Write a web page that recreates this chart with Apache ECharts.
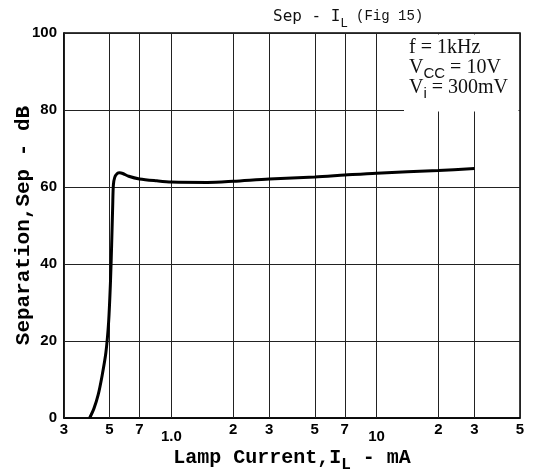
<!DOCTYPE html>
<html><head><meta charset="utf-8">
<script src="https://cdn.jsdelivr.net/npm/echarts@6/dist/echarts.min.js"></script>
<style>html,body{margin:0;padding:0;background:#fff}#c{width:543px;height:473px}</style>
</head><body><div id="c"></div>
<script>
// Lamp current (mA) and separation (dB)
const currents   = [0.40, 0.42, 0.44, 0.46, 0.48, 0.495, 0.505, 0.512, 0.518, 0.522, 0.53, 0.545, 0.56, 0.58, 0.62, 0.70, 0.85, 1.0, 1.5, 2.0, 3.0, 5, 7, 10, 20, 30];
const separation = [0, 2.5, 6, 11, 17, 25, 35, 45, 55, 60.5, 62.5, 63.5, 63.7, 63.5, 62.8, 62.1, 61.6, 61.3, 61.2, 61.5, 62.1, 62.6, 63.1, 63.6, 64.3, 64.8];
// x-axis ticks (log scale, mA) and their printed labels
const tickValues = [0.3, 0.5, 0.7, 1, 2, 3, 5, 7, 10, 20, 30, 50];
const tickLabels = ['3', '5', '7', '1.0', '2', '3', '5', '7', '10', '2', '3', '5'];
const lowLabels  = ['1.0', '10'];
const xMin = 0.3, xMax = 50;
const yMin = 0, yMax = 100, yStep = 20;

const chart = echarts.init(document.getElementById('c'));
const lineData = currents.map((c, i) => [c, separation[i]]);

const gridLines = tickValues.map((v, i) => [
  { coord: [v, yMin], label: { formatter: tickLabels[i], distance: lowLabels.includes(tickLabels[i]) ? 11 : 4 } },
  { coord: [v, yMax] }
]);

chart.setOption({
  animation: false,
  backgroundColor: '#fff',
  title: {
    text: '{a|Sep - I}{s|L}{b| (Fig 15)}',
    left: 268, top: 4,
    textStyle: {
      rich: {
        a: { fontFamily: 'DejaVu Sans Mono', fontWeight: 'normal', fontSize: 16, color: '#111', verticalAlign: 'top', lineHeight: 18 },
        s: { fontFamily: 'DejaVu Sans Mono', fontWeight: 'normal', fontSize: 12, color: '#111', verticalAlign: 'top', lineHeight: 12, padding: [9, 0, 0, 0] },
        b: { fontFamily: 'Liberation Mono', fontWeight: 'normal', fontSize: 14, color: '#111', verticalAlign: 'top', lineHeight: 18 }
      }
    }
  },
  grid: { left: 64, right: 23, top: 33, bottom: 55, outerBoundsMode: 'none', containLabel: false,
          show: true, borderColor: '#000', borderWidth: 1.5, backgroundColor: '#fff' },
  xAxis: {
    type: 'log', logBase: 10, min: xMin, max: xMax,
    axisLine: { show: true, lineStyle: { color: '#000', width: 1.5 } },
    axisTick: { show: false }, axisLabel: { show: false }, splitLine: { show: false },
    name: '{n|Lamp Current,I}{s|L}{n| - mA}',
    nameLocation: 'middle', nameGap: 30, nameMoveOverlap: false,
    nameTextStyle: {
      rich: {
        n: { fontFamily: 'Liberation Mono', fontWeight: 'bold', fontSize: 20, color: '#000', verticalAlign: 'top', lineHeight: 20 },
        s: { fontFamily: 'Liberation Mono', fontWeight: 'bold', fontSize: 16, color: '#000', verticalAlign: 'top', lineHeight: 14, padding: [9, 0, 0, 0] }
      }
    }
  },
  yAxis: {
    type: 'value', min: yMin, max: yMax, interval: yStep,
    axisLine: { show: true, lineStyle: { color: '#000', width: 1.5 } },
    axisTick: { show: false },
    axisLabel: { color: '#000', fontFamily: 'Liberation Sans', fontWeight: 'bold', fontSize: 15, margin: 7 },
    splitLine: { show: true, lineStyle: { color: '#222', width: 1 } },
    name: 'Separation,Sep - dB', nameLocation: 'middle', nameGap: 30, nameRotate: 90, nameMoveOverlap: false,
    nameTextStyle: { fontFamily: 'Liberation Mono', fontWeight: 'bold', fontSize: 21, color: '#000' }
  },
  graphic: [
    { type: 'rect', z: 100, shape: { x: 404, y: 34.5, width: 114.5, height: 77 }, style: { fill: '#fff' } },
    { type: 'text', z: 101, left: 409, top: 38,
      style: {
        text: '{t|f = 1kHz}\n{t|V}{s|CC}{t| = 10V}\n{t|V}{s|i}{t| = 300mV}',
        rich: {
          t: { fontFamily: 'Liberation Serif', fontSize: 20, fill: '#111', verticalAlign: 'top', lineHeight: 20 },
          s: { fontFamily: 'Liberation Sans', fontSize: 15, fill: '#111', verticalAlign: 'top', lineHeight: 14, padding: [8, 0, 0, 0] }
        }
      }
    }
  ],
  series: [{
    type: 'line', data: lineData, showSymbol: false, smooth: 0.3,
    lineStyle: { color: '#000', width: 3 }, z: 5,
    markLine: {
      silent: true, symbol: ['none', 'none'], animation: false,
      lineStyle: { color: '#222', width: 1, type: 'solid' },
      label: { show: true, position: 'start', color: '#000', fontFamily: 'Liberation Sans', fontWeight: 'bold', fontSize: 15 },
      data: gridLines
    }
  }]
});
</script></body></html>
